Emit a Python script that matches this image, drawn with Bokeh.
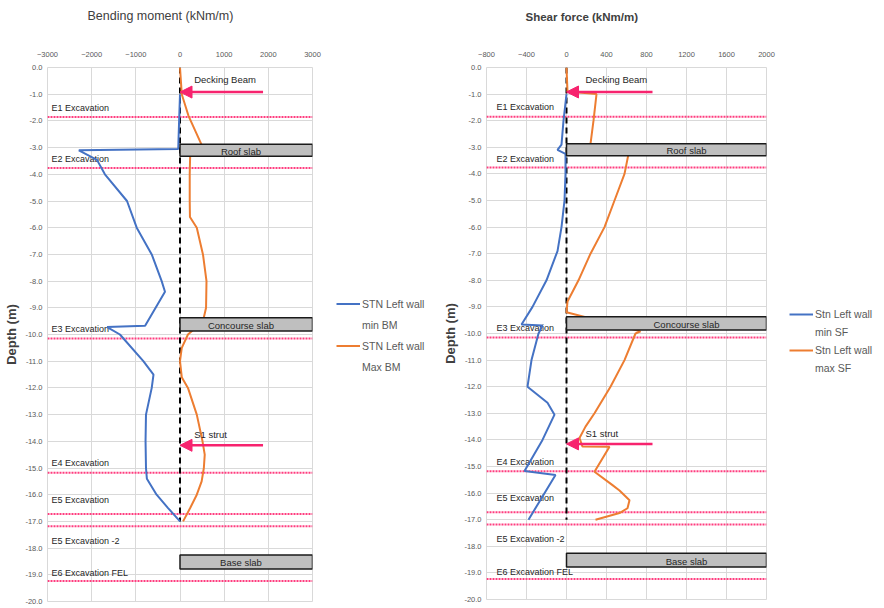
from bokeh.plotting import figure
from bokeh.models import (Range1d, FixedTicker, NumeralTickFormatter, Legend,
                          LegendItem, Arrow, NormalHead, Title)
from bokeh.layouts import row
from bokeh.core.properties import value
from bokeh.embed import file_html
from bokeh.resources import INLINE

# ---------------- data ----------------
depth_ticks = [-float(i) for i in range(0, 21)]
bm_ticks = [-3000, -2000, -1000, 0, 1000, 2000, 3000]
sf_ticks = [-800, -400, 0, 400, 800, 1200, 1600, 2000]

# Bending moment - min
bm_min_depth = [-1.0, -2.0, -3.05, -3.1, -3.46, -4.0, -5.0, -6.0, -7.0, -8.0, -8.4,
                -9.67, -9.72, -10.0, -11.0, -11.5, -12.0, -13.0, -14.0, -15.0,
                -15.4, -16.0, -16.5, -17.0]
bm_min = [0, -20, -40, -2290, -1880, -1700, -1200, -980, -640, -415, -340,
          -790, -1650, -1360, -830, -600, -640, -770, -780, -770,
          -750, -530, -270, 0]
# Bending moment - max
bm_max_depth = [0, -1.0, -1.8, -2.9, -3.3, -4.0, -5.0, -5.6, -6.0, -7.0, -8.0, -9.0,
                -9.5, -10.0, -10.5, -11.0, -11.6, -12.0, -13.0, -14.0, -14.5, -15.0,
                -15.5, -16.0, -16.5, -17.0]
bm_max = [0, 40, 190, 490, 230, 220, 220, 225, 380, 520, 600, 590,
          520, 180, 40, 0, 40, 180, 380, 510, 560, 540,
          490, 380, 230, 70]

# Shear force - min
sf_min_depth = [-1.0, -2.0, -2.9, -3.1, -3.25, -4.0, -5.0, -6.0, -6.9, -8.0, -9.0,
                -9.66, -9.7, -10.0, -11.0, -12.0, -12.6, -13.05, -14.0, -15.17,
                -15.32, -17.0]
sf_min = [0, -30, -50, -90, -10, -10, -20, -50, -90, -200, -340,
          -450, -240, -280, -350, -390, -190, -120, -240, -420,
          -110, -380]
# Shear force - max
sf_max_depth = [0, -0.9, -1.0, -2.0, -2.87, -3.25, -4.0, -5.0, -6.0, -7.0, -8.0,
                -8.8, -9.2, -9.92, -10.0, -11.0, -12.0, -13.0, -13.5, -13.93,
                -14.25, -14.26, -15.2, -15.7, -15.9, -16.27, -16.57, -16.75, -17.0]
sf_max = [0, 10, 300, 270, 240, 620, 580, 480, 380, 240, 120,
          10, 0, 740, 690, 580, 440, 280, 190, 130,
          160, 430, 280, 460, 530, 630, 610, 530, 290]

# Excavation stages
exc_names = ["E1 Excavation", "E2 Excavation", "E3 Excavation", "E4 Excavation",
             "E5 Excavation", "E5 Excavation -2", "E6 Excavation FEL"]
exc_levels = [-1.85, -3.76, -10.15, -15.18, -16.72, -17.18, -19.23]
exc_label_depths = [-1.5, -3.43, -9.78, -14.83, -16.2, -17.73, -18.95]

# Slabs
slab_names = ["Roof slab", "Concourse slab", "Base slab"]
slab_top = [-2.87, -9.37, -18.26]
slab_bottom = [-3.32, -9.87, -18.78]

# Supports (arrows)
support_names = ["Decking Beam", "S1 strut"]
support_depths = [-0.92, -14.15]
support_label_depths = [-0.45, -13.75]

wall_top = 0.0
wall_toe = -17.0

# legend texts (two lines each)
bm_legend = [("STN Left wall", "min BM"), ("STN Left wall", "Max BM")]
sf_legend = [("Stn Left wall", "min SF"), ("Stn Left wall", "max SF")]

BLUE = "#4472C4"
ORANGE = "#ED7D31"
PINK = "#F7236E"
DOT = "#FF3D7F"
GRID = "#D9D9D9"
TXT = "#404040"
TICK = "#595959"
FONT = "Liberation Sans"


def build(title, bold, xr, xticks, fw, fh, bl, br, bt, bb, tail_x, label_x,
          slab_frac, exc_off, title_off, gap, mins, maxs):
    p = figure(frame_width=fw, frame_height=fh, x_range=Range1d(xr[0], xr[1]),
               y_range=Range1d(-20, 0), x_axis_location="above",
               toolbar_location=None, output_backend="svg",
               min_border_left=bl, min_border_right=br,
               min_border_top=bt, min_border_bottom=bb)
    # empty spacer panel between the top axis and the chart title
    p.add_layout(Title(text=" ", text_font_size="10px", standoff=gap), "above")
    p.add_layout(Title(text=title, align="left", offset=title_off, standoff=0,
                       text_font=FONT,
                       text_font_size="11.5px" if bold else "12.5px",
                       text_font_style="bold" if bold else "normal",
                       text_color=TXT), "above")

    p.outline_line_color = GRID
    p.background_fill_color = "white"
    p.border_fill_color = "white"

    xa = p.xaxis[0]
    xa.ticker = FixedTicker(ticks=xticks)
    ya = p.yaxis[0]
    ya.ticker = FixedTicker(ticks=depth_ticks)
    ya.formatter = NumeralTickFormatter(format="0.0")
    for ax in (xa, ya):
        ax.axis_line_color = None
        ax.major_tick_line_color = None
        ax.minor_tick_line_color = None
        ax.major_tick_out = 0
        ax.major_label_text_font = FONT
        ax.major_label_text_font_size = "7.5px"
        ax.major_label_text_color = TICK
    xa.major_label_standoff = 11
    ya.major_label_standoff = 5
    ya.axis_label = "Depth (m)"
    ya.axis_label_text_font = FONT
    ya.axis_label_text_font_style = "bold"
    ya.axis_label_text_font_size = "13px"
    ya.axis_label_text_color = TXT
    ya.axis_label_standoff = 3

    p.xgrid.ticker = FixedTicker(ticks=xticks)
    p.ygrid.ticker = FixedTicker(ticks=depth_ticks)
    p.xgrid.grid_line_color = GRID
    p.ygrid.grid_line_color = GRID

    # excavation levels
    p.segment(x0=xr[0], x1=xr[1], y0=exc_levels, y1=exc_levels,
              line_color=DOT, line_width=2, line_dash="2 1")
    p.text(x=xr[0], y=exc_label_depths, text=exc_names, x_offset=exc_off,
           text_font=value(FONT), text_font_size="9px", text_color="#262626",
           text_baseline="middle", text_align="left")

    # wall line
    p.line([0, 0], [wall_top, wall_toe], line_color="black", line_width=2,
           line_dash="6 4")

    # results
    p.line(mins[0], mins[1], line_color=BLUE, line_width=2)
    p.line(maxs[0], maxs[1], line_color=ORANGE, line_width=2)

    # slabs
    p.quad(left=0, right=xr[1], top=slab_top, bottom=slab_bottom,
           fill_color="#BFBFBF", line_color="#1a1a1a", line_width=1.5)
    p.text(x=xr[1] * slab_frac, y=[(a + b) / 2 for a, b in zip(slab_top, slab_bottom)],
           text=slab_names, text_font=value(FONT), text_font_size="9.5px",
           text_color="#262626", text_align="center", text_baseline="middle",
           y_offset=1)

    # supports
    for d in support_depths:
        p.add_layout(Arrow(end=NormalHead(size=12, fill_color=PINK, line_color=PINK),
                           x_start=tail_x, y_start=d, x_end=0, y_end=d,
                           line_color=PINK, line_width=2.5))
    p.text(x=label_x, y=support_label_depths, text=support_names,
           text_font=value(FONT), text_font_size="9.5px", text_color="#262626",
           text_align="left", text_baseline="middle")
    return p


def legend_fig(w, labels, pos, row_h, spacing):
    lf = figure(width=w, height=608, x_range=Range1d(0, 1), y_range=Range1d(0, 1),
                toolbar_location=None, output_backend="svg",
                min_border_left=0, min_border_right=0, min_border_top=0,
                min_border_bottom=0)
    lf.axis.visible = False
    lf.grid.visible = False
    lf.outline_line_color = None
    items = []
    for (first, second), color in zip(labels, [BLUE, ORANGE]):
        # legend key renderers sit outside the visible range of this key panel
        r = lf.line([2, 3], [2, 3], line_color=color, line_width=2)
        blank = lf.line([2, 3], [2, 3], line_color=color, line_alpha=0)
        items.append(LegendItem(label=first, renderers=[r]))
        items.append(LegendItem(label=second, renderers=[blank]))
    leg = Legend(items=items, location=pos)
    leg.label_text_font = FONT
    leg.label_text_font_size = "10.5px"
    leg.label_text_color = TICK
    leg.label_height = row_h
    leg.glyph_height = row_h
    leg.border_line_color = None
    leg.background_fill_alpha = 0
    leg.glyph_width = 24
    leg.label_standoff = 2
    leg.spacing = spacing
    leg.padding = 0
    leg.margin = 0
    lf.add_layout(leg, "center")
    return lf


p1 = build("Bending moment (kNm/m)", False, (-3000, 3000), bm_ticks,
           265, 534, 47, 12, 67, 7, 1880, 320, 0.46, 4, 40, 13,
           (bm_min, bm_min_depth), (bm_max, bm_max_depth))
l1 = legend_fig(116, bm_legend, (12, 222), 21, 0)
p2 = build("Shear force (kNm/m)", True, (-800, 2000), sf_ticks,
           280, 532, 45, 12, 67, 9, 860, 190, 0.6, 10, 39, 13,
           (sf_min, sf_min_depth), (sf_max, sf_max_depth))
l2 = legend_fig(107, sf_legend, (11, 222), 18, 0)

layout = row(p1, l1, p2, l2)
open("out.html", "w").write(file_html(layout, INLINE))
